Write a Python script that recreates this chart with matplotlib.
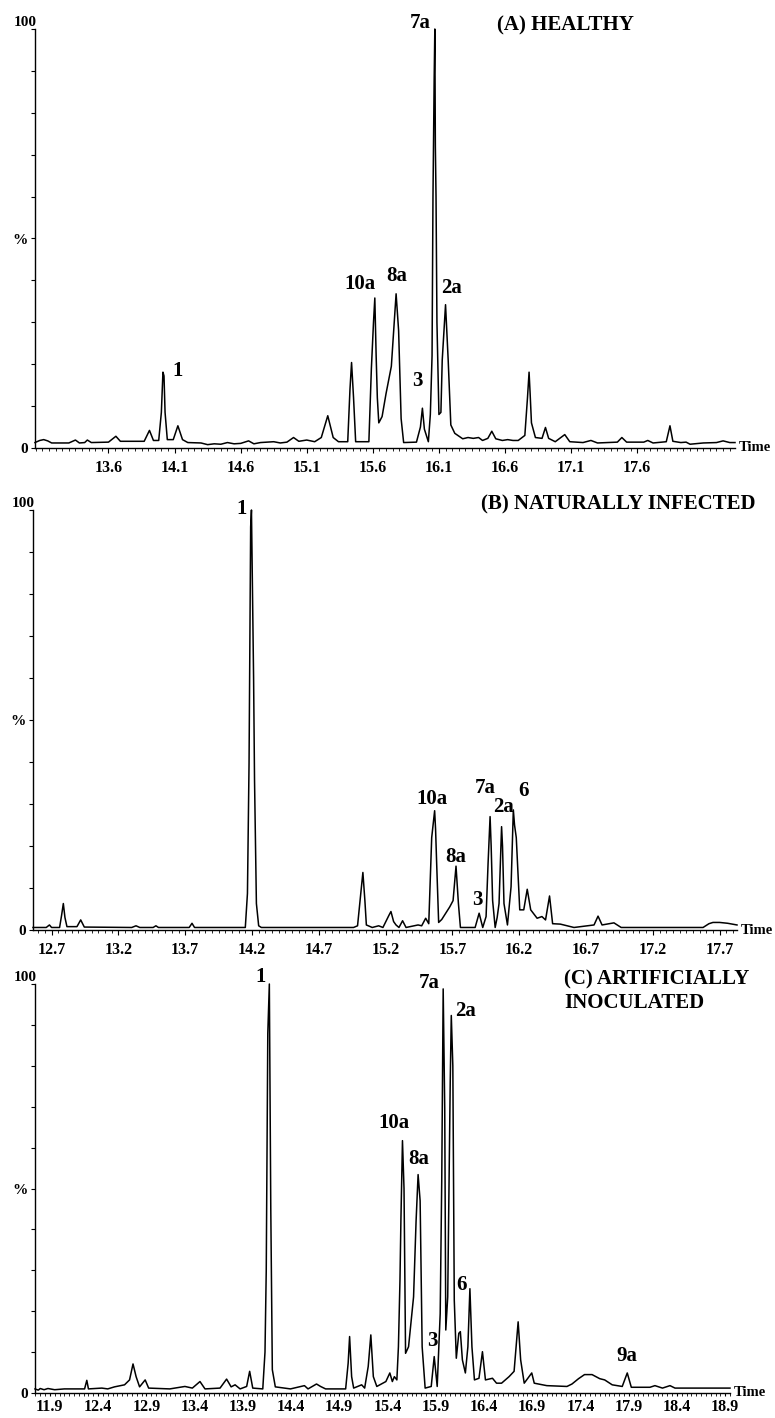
import numpy as np
import matplotlib
matplotlib.use('Agg')
import matplotlib.pyplot as plt
from matplotlib.ticker import FixedLocator, NullFormatter
from matplotlib.transforms import ScaledTranslation

plt.rcParams['font.family'] = ['Liberation Serif', 'DejaVu Serif']
plt.rcParams['font.weight'] = 'bold'

# ---- (A) healthy: retention time (min) and relative abundance (%)
a_time = [13.044, 13.08, 13.11, 13.14, 13.17, 13.30, 13.35, 13.38, 13.42, 13.44, 13.47, 13.60,
          13.656, 13.69, 13.87, 13.91, 13.94, 13.98, 14.00, 14.012, 14.02, 14.028, 14.045, 14.09,
          14.125, 14.16, 14.20, 14.30, 14.35, 14.40, 14.45, 14.50, 14.55, 14.60, 14.66, 14.70,
          14.75, 14.85, 14.90, 14.95, 15.00, 15.04, 15.10, 15.16, 15.21, 15.259, 15.30, 15.34,
          15.41, 15.427, 15.439, 15.454, 15.47, 15.57, 15.589, 15.605, 15.615, 15.625, 15.634,
          15.645, 15.67, 15.70, 15.74, 15.758, 15.776, 15.795, 15.814, 15.833, 15.93, 15.96,
          15.975, 15.99, 16.02, 16.035, 16.048, 16.055, 16.064, 16.069, 16.073, 16.078, 16.085,
          16.10, 16.115, 16.125, 16.15, 16.17, 16.19, 16.22, 16.28, 16.32, 16.36, 16.40, 16.43,
          16.47, 16.50, 16.53, 16.58, 16.62, 16.66, 16.70, 16.75, 16.77, 16.782, 16.79, 16.80,
          16.83, 16.88, 16.906, 16.93, 16.98, 17.052, 17.09, 17.19, 17.25, 17.30, 17.45, 17.484,
          17.52, 17.65, 17.68, 17.72, 17.82, 17.848, 17.87, 17.93, 17.97, 18.00, 18.10, 18.20,
          18.25, 18.30, 18.34]
a_pct = [1.3, 1.8, 2.0, 1.7, 1.2, 1.2, 1.9, 1.2, 1.3, 1.9, 1.3, 1.4,
         2.8, 1.6, 1.6, 4.2, 1.8, 1.8, 8.5, 18.1, 17.2, 8.5, 2.0, 2.0,
         5.3, 2.0, 1.3, 1.2, 0.8, 1.0, 0.9, 1.3, 1.0, 1.1, 1.7, 1.0,
         1.3, 1.5, 1.2, 1.4, 2.5, 1.6, 1.9, 1.5, 2.5, 7.7, 2.5, 1.5,
         1.5, 14.0, 20.4, 12.0, 1.5, 1.5, 19.0, 30.0, 35.8, 22.0, 12.0,
         6.0, 7.5, 13.0, 19.5, 28.0, 36.8, 28.0, 7.0, 1.3, 1.4, 5.0,
         9.5, 4.5, 1.5, 8.0, 22.0, 60.0, 88.0, 100.0, 72.0, 60.0, 30.0,
         8.0, 8.5, 21.0, 34.2, 21.0, 5.5, 3.5, 2.2, 2.5, 2.3, 2.5, 1.8,
         2.3, 4.0, 2.2, 1.8, 2.0, 1.8, 1.8, 3.0, 12.0, 18.1, 13.0, 6.0,
         2.5, 2.3, 4.9, 2.3, 1.5, 3.2, 1.5, 1.3, 1.8, 1.2, 1.4, 2.5,
         1.4, 1.4, 1.8, 1.2, 1.5, 5.3, 1.6, 1.3, 1.4, 0.9, 1.2, 1.3,
         1.7, 1.3, 1.3]
a_ticks = [13.6, 14.1, 14.6, 15.1, 15.6, 16.1, 16.6, 17.1, 17.6]
a_peaks = ['1', '10a', '8a', '3', '7a', '2a']
a_peak_t = [14.125, 15.506, 15.784, 15.934, 15.956, 16.197]
a_peak_y = [18.3, 39.1, 41.0, 16.1, 101.4, 38.1]

# ---- (B) naturally infected
b_time = [12.561, 12.66, 12.684, 12.70, 12.76, 12.775, 12.788, 12.80, 12.815, 12.89, 12.918,
          12.945, 13.30, 13.332, 13.36, 13.46, 13.481, 13.50, 13.73, 13.751, 13.77, 14.15,
          14.166, 14.178, 14.19, 14.196, 14.203, 14.212, 14.219, 14.233, 14.25, 14.27, 14.96,
          14.99, 15.012, 15.03, 15.045, 15.056, 15.10, 15.148, 15.18, 15.225, 15.24, 15.26,
          15.278, 15.30, 15.327, 15.353, 15.443, 15.47, 15.50, 15.523, 15.545, 15.567, 15.574,
          15.582, 15.597, 15.62, 15.68, 15.705, 15.727, 15.745, 15.76, 15.87, 15.90, 15.927,
          15.952, 15.967, 15.982, 15.99, 16.001, 16.02, 16.035, 16.049, 16.068, 16.075, 16.086,
          16.112, 16.139, 16.156, 16.165, 16.178, 16.204, 16.234, 16.26, 16.286, 16.334, 16.37,
          16.397, 16.427, 16.45, 16.508, 16.61, 16.76, 16.79, 16.82, 16.909, 16.963, 17.576,
          17.62, 17.65, 17.70, 17.76, 17.83]
b_pct = [0.6, 0.6, 1.2, 0.6, 0.6, 3.5, 6.3, 3.0, 0.8, 0.8, 2.4,
         0.7, 0.6, 1.0, 0.6, 0.6, 1.0, 0.6, 0.6, 1.6, 0.6, 0.6,
         8.7, 39.7, 96.0, 100.0, 82.5, 60.0, 35.7, 6.3, 1.0, 0.6, 0.6,
         1.0, 8.0, 13.7, 7.0, 1.2, 0.6, 1.0, 0.6, 3.5, 4.4, 2.0,
         1.2, 0.6, 2.2, 0.6, 1.2, 1.0, 2.8, 1.5, 22.0, 28.4, 24.0,
         16.0, 1.8, 2.5, 5.5, 7.0, 15.2, 6.3, 0.6, 0.6, 4.0, 0.6,
         3.2, 15.9, 27.0, 20.0, 7.0, 0.6, 3.0, 6.3, 24.6, 20.0, 6.3,
         1.2, 10.3, 28.6, 25.0, 22.0, 4.8, 4.8, 9.7, 4.8, 2.8, 3.2,
         2.4, 8.1, 1.5, 1.4, 0.6, 1.2, 3.3, 1.2, 1.7, 0.6, 0.6,
         1.5, 1.8, 1.8, 1.6, 1.2]
b_ticks = [12.7, 13.2, 13.7, 14.2, 14.7, 15.2, 15.7, 16.2, 16.7, 17.2, 17.7]
b_peaks = ['1', '10a', '8a', '3', '7a', '2a', '6']
b_peak_t = [14.122, 15.549, 15.723, 15.89, 15.945, 16.079, 16.234]
b_peak_y = [100.2, 31.3, 17.5, 7.1, 33.7, 29.2, 33.2]

# ---- (C) artificially inoculated
c_time = [11.746, 11.78, 11.80, 11.84, 11.88, 11.95, 12.05, 12.20, 12.26, 12.283, 12.30, 12.439,
          12.50, 12.57, 12.674, 12.726, 12.762, 12.794, 12.83, 12.888, 12.924, 13.143, 13.30,
          13.377, 13.456, 13.508, 13.664, 13.732, 13.779, 13.82, 13.872, 13.94, 13.971, 14.003,
          14.107, 14.13, 14.143, 14.159, 14.175, 14.183, 14.19, 14.206, 14.237, 14.394, 14.539,
          14.576, 14.664, 14.706, 14.758, 14.966, 14.992, 15.007, 15.028, 15.049, 15.132, 15.163,
          15.20, 15.227, 15.253, 15.289, 15.383, 15.424, 15.45, 15.471, 15.497, 15.513, 15.529,
          15.539, 15.555, 15.571, 15.587, 15.618, 15.67, 15.696, 15.717, 15.738, 15.759, 15.79,
          15.853, 15.884, 15.915, 15.946, 15.962, 15.977, 15.993, 16.004, 16.024, 16.05, 16.061,
          16.077, 16.092, 16.113, 16.139, 16.155, 16.176, 16.207, 16.233, 16.254, 16.275, 16.301,
          16.348, 16.384, 16.415, 16.488, 16.53, 16.582, 16.66, 16.712, 16.754, 16.78, 16.817,
          16.895, 16.921, 17.051, 17.26, 17.312, 17.38, 17.442, 17.52, 17.60, 17.651, 17.729,
          17.833, 17.885, 17.927, 18.12, 18.172, 18.25, 18.328, 18.38, 18.95]
c_pct = [1.0, 0.7, 1.1, 0.8, 1.1, 0.8, 1.0, 1.0, 1.0, 3.1, 1.0, 1.2,
         1.0, 1.5, 2.0, 3.2, 7.1, 4.0, 1.5, 3.2, 1.2, 1.0, 1.6,
         1.2, 2.8, 1.0, 1.2, 3.4, 1.5, 2.0, 1.0, 1.6, 5.3, 1.2,
         1.0, 10.0, 30.0, 87.9, 100.0, 70.0, 45.0, 5.7, 1.5, 1.0, 1.8,
         1.0, 2.2, 1.6, 1.0, 1.0, 7.3, 13.8, 4.0, 1.2, 2.0, 1.2,
         6.5, 14.2, 4.0, 1.6, 2.8, 4.9, 2.8, 4.0, 3.2, 11.3, 27.5,
         42.5, 61.7, 50.0, 9.7, 11.3, 23.5, 42.0, 53.4, 47.0, 11.3, 1.2,
         1.6, 8.9, 1.6, 19.4, 51.8, 98.8, 69.6, 15.4, 23.5, 76.0, 92.3,
         80.0, 22.7, 8.5, 14.6, 15.0, 8.1, 4.9, 11.3, 25.5, 11.3, 3.2,
         3.6, 10.1, 3.2, 3.6, 2.4, 2.4, 4.0, 5.3, 17.4, 8.1, 2.4,
         4.9, 2.4, 1.8, 1.6, 2.2, 3.5, 4.5, 4.5, 3.5, 3.2, 2.0,
         1.6, 4.9, 1.4, 1.4, 1.8, 1.2, 1.8, 1.2, 1.2]
c_ticks = [11.9, 12.4, 12.9, 13.4, 13.9, 14.4, 14.9, 15.4, 15.9, 16.4, 16.9, 17.4, 17.9, 18.4, 18.9]
c_peaks = ['1', '7a', '2a', '10a', '8a', '6', '3', '9a']
c_peak_t = [14.081, 15.837, 16.207, 15.462, 15.728, 16.165, 15.862, 17.885]
c_peak_y = [101.6, 100.2, 93.5, 66.0, 57.1, 26.3, 12.7, 9.1]


fig = plt.figure(figsize=(7.75, 14.18), dpi=100)


def draw_panel(rect, t, y, xlim, ticks, names, pt, py, title, tx, ty, tha, xpad=5, tlen=3.5):
    ax = fig.add_axes(rect)
    ax.plot(t, y, color='black', lw=1.1, clip_on=False)
    ax.set_xlim(*xlim)
    ax.set_ylim(0, 100)
    for s in ('top', 'right'):
        ax.spines[s].set_visible(False)
    for s in ('left', 'bottom'):
        ax.spines[s].set_linewidth(1.0)

    ax.set_xticks(ticks)
    ax.set_xticklabels([f'{v:.1f}' for v in ticks])
    minor = np.round(np.arange(ticks[0] - 3, ticks[-1] + 3, 0.05), 2)
    minor = minor[(minor >= xlim[0]) & (minor <= xlim[1])]
    ax.xaxis.set_minor_locator(FixedLocator(minor))
    ax.xaxis.set_minor_formatter(NullFormatter())

    ax.set_yticks([0, 50, 100])
    ax.yaxis.set_minor_locator(FixedLocator(range(10, 100, 10)))
    ax.tick_params(axis='x', which='major', direction='out', length=tlen, width=0.8,
                   pad=xpad, labelsize=11.5)
    ax.tick_params(axis='x', which='minor', direction='out', length=2, width=0.6)
    ax.tick_params(axis='y', which='both', direction='out', length=3, width=0.8,
                   pad=2, labelsize=11)
    ax.set_yticklabels(['0', '%', '100'])
    top = ax.get_yticklabels()[2]
    top.set_va('bottom')
    top.set_transform(top.get_transform() + ScaledTranslation(6 / 72, 0, fig.dpi_scale_trans))

    for n, x0, y0 in zip(names, pt, py):
        ax.text(x0, y0, n, ha='center', va='center', fontsize=15)
    ax.text(tx, ty, title, transform=ax.transAxes, ha=tha, va='center', fontsize=15)
    ax.text(1.006, 0.0, 'Time', transform=ax.transAxes, ha='left', va='center', fontsize=10.5)
    return ax


draw_panel([35 / 775, 1 - 448 / 1418, 700 / 775, 419 / 1418], a_time, a_pct, (13.044, 18.34),
           a_ticks, a_peaks, a_peak_t, a_peak_y, '(A) HEALTHY', 0.66, 1.0095, 'left')
draw_panel([33 / 775, 1 - 930 / 1418, 704 / 775, 420 / 1418], b_time, b_pct, (12.561, 17.83),
           b_ticks, b_peaks, b_peak_t, b_peak_y, '(B) NATURALLY INFECTED', 1.026, 1.012, 'right')
draw_panel([35 / 775, 1 - 1393 / 1418, 695 / 775, 409 / 1418], c_time, c_pct, (11.746, 18.95),
           c_ticks, c_peaks, c_peak_t, c_peak_y, '(C) ARTIFICIALLY\nINOCULATED', 0.761, 0.982, 'left',
           xpad=1.5, tlen=2.5)

fig.savefig('out.png', dpi=100)
